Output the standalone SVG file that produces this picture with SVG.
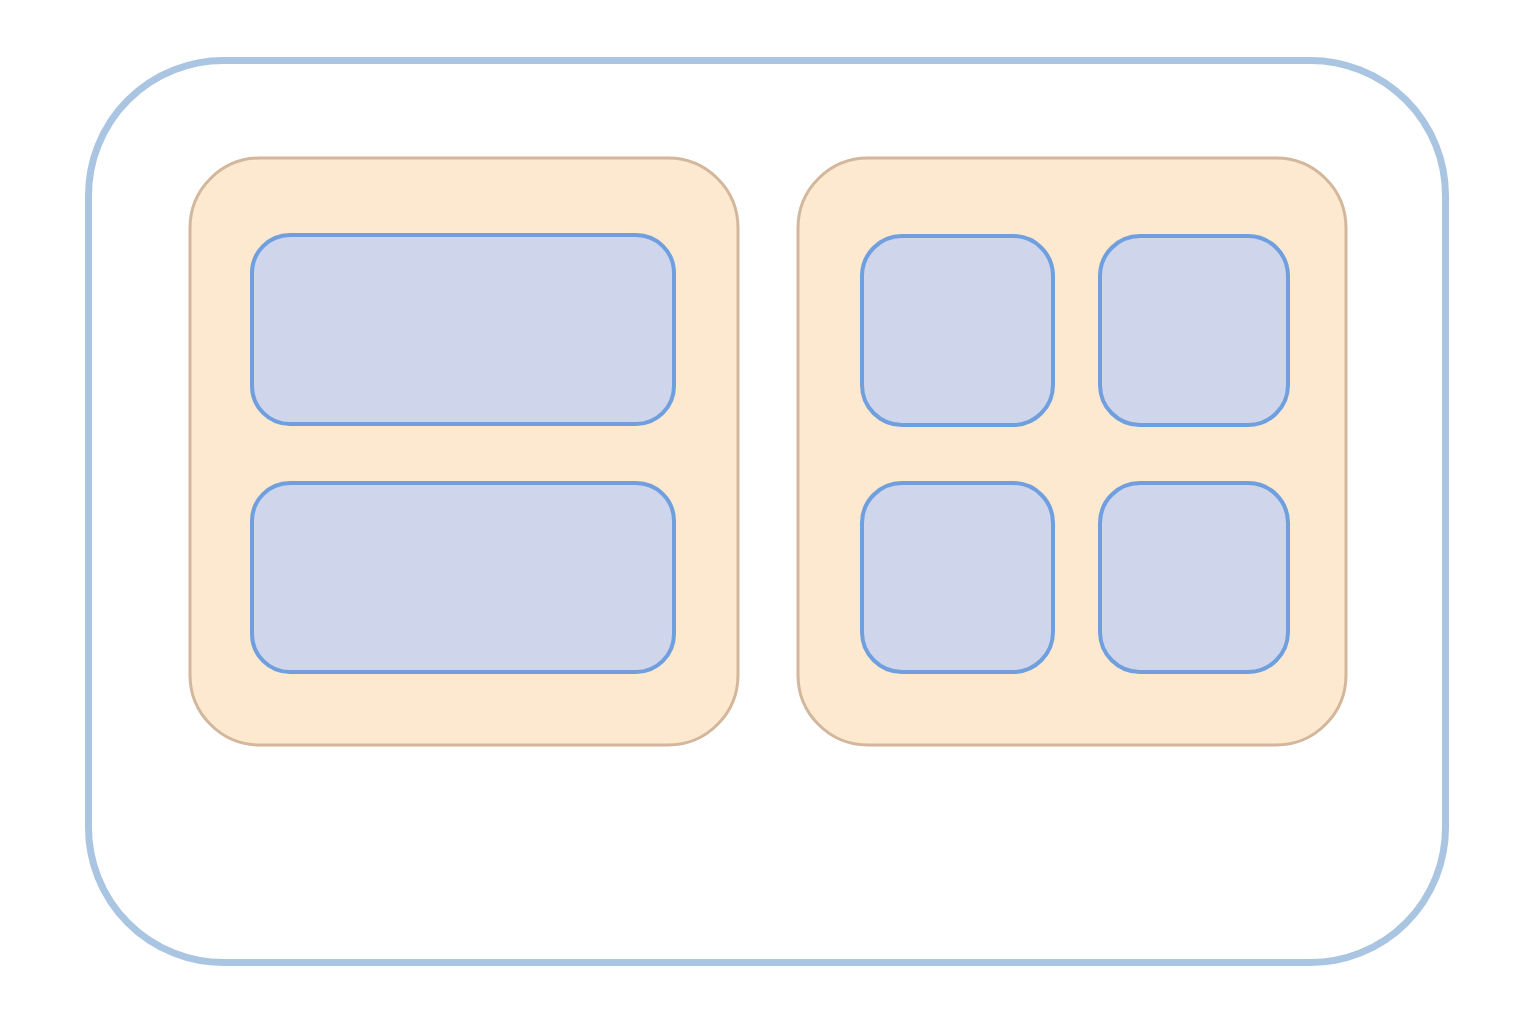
<svg xmlns="http://www.w3.org/2000/svg" width="1536" height="1024" viewBox="0 0 1536 1024">
<style>
.outer{fill:#ffffff;stroke:#a9c5e2;stroke-width:7}
.panel{fill:#fde9cf;stroke:#d2b79c;stroke-width:3}
.cell{fill:#cfd6eb;stroke:#6f9fdf;stroke-width:4}
</style>
<rect width="1536" height="1024" fill="#ffffff"/>
<g id="outer"><rect class="outer" x="88.5" y="60.5" width="1357" height="902" rx="135" ry="135"/></g>
<g id="panel-left"><rect class="panel" x="190" y="158" width="548" height="587" rx="70" ry="70"/></g>
<g id="panel-right"><rect class="panel" x="798" y="158" width="548" height="587" rx="70" ry="70"/></g>
<g id="cell-l1"><rect class="cell" x="252" y="235" width="422" height="189" rx="38" ry="38"/></g>
<g id="cell-l2"><rect class="cell" x="252" y="483" width="422" height="189" rx="38" ry="38"/></g>
<g id="cell-r1"><rect class="cell" x="862" y="236" width="191" height="189" rx="40" ry="40"/></g>
<g id="cell-r2"><rect class="cell" x="1100" y="236" width="188" height="189" rx="40" ry="40"/></g>
<g id="cell-r3"><rect class="cell" x="862" y="483" width="191" height="189" rx="40" ry="40"/></g>
<g id="cell-r4"><rect class="cell" x="1100" y="483" width="188" height="189" rx="40" ry="40"/></g>
<g id="connectors"></g>
</svg>
